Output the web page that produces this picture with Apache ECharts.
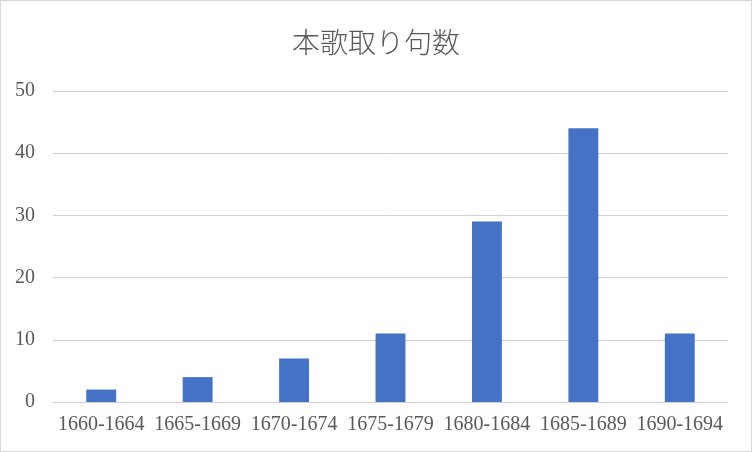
<!DOCTYPE html>
<html><head><meta charset="utf-8">
<script src="https://cdn.jsdelivr.net/npm/echarts@6/dist/echarts.min.js"></script>
<style>html,body{margin:0;padding:0;background:#fff}#c{width:750px;height:450px;border:1px solid #d9d9d9}</style>
</head><body><div id="c"></div>
<script>
const categories = ['1660-1664','1665-1669','1670-1674','1675-1679','1680-1684','1685-1689','1690-1694'];
const values = [2, 4, 7, 11, 29, 44, 11];
const titleText = '本歌取り句数';
const chart = echarts.init(document.getElementById('c'));
chart.setOption({
  animation: false,
  title: { text: titleText, left: 'center', top: 22,
    textStyle: { fontFamily: 'Noto Sans CJK JP', fontWeight: 300, fontSize: 28, color: '#595959' } },
  grid: { left: 52, right: 23, top: 90, bottom: 49, containLabel: false },
  xAxis: { type: 'category', data: categories,
    axisLine: { lineStyle: { color: '#d0d0d0', width: 1 } }, axisTick: { show: false },
    axisLabel: { fontFamily: 'Liberation Serif', fontSize: 20, color: '#595959', margin: 13, interval: 0 } },
  yAxis: { type: 'value', min: 0, max: 50, interval: 10,
    axisLine: { show: false }, axisTick: { show: false },
    splitLine: { lineStyle: { color: '#d0d0d0', width: 1 } },
    axisLabel: { fontFamily: 'Liberation Serif', fontSize: 20, color: '#595959', margin: 18 } },
  series: [{ type: 'bar', data: values, barWidth: '31%', itemStyle: { color: '#4472C4' } }]
});
</script></body></html>
